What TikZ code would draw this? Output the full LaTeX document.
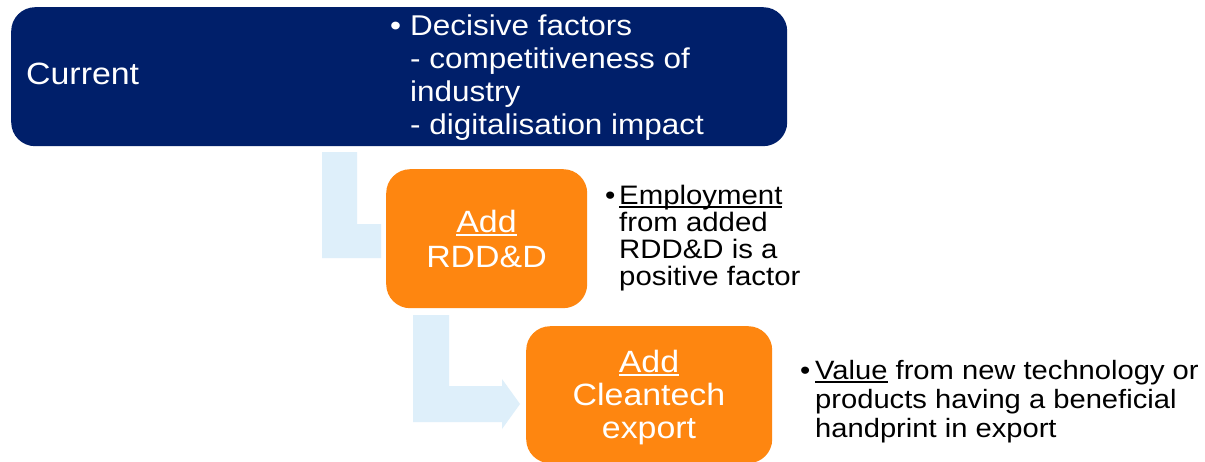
\documentclass[tikz,border=0pt]{standalone}
\usepackage{fontspec}
\setmainfont{Liberation Sans}[FakeStretch=1.1]
\definecolor{navy}{RGB}{0,31,106}
\definecolor{orng}{RGB}{254,134,16}
\definecolor{lblue}{RGB}{222,239,250}
\newcommand\undl[1]{\setbox0\hbox{#1}\rlap{\rule[-3.5pt]{\wd0}{2pt}}#1}
\begin{document}
\begin{tikzpicture}[x=1pt,y=-1pt,
  panel/.style={rounded corners=24pt, inner sep=0pt, anchor=north west},
  navybox/.style={panel, fill=navy},
  orangebox/.style={panel, fill=orng},
  flow/.style={fill=lblue},
  wtext/.style={inner sep=0pt, text=white},
  btext/.style={inner sep=0pt, text=black, align=left, anchor=base west},
  bigfont/.style={font=\fontsize{30.8}{35}\selectfont}
]
\useasboundingbox (0,0) rectangle (1205,461);
\fill[white] (0,0) rectangle (1205,461);

% light blue bent arrows
\fill[flow] (322,152) -- (357,152) -- (357,224) -- (381,224) -- (381,258) -- (322,258) -- cycle;
\fill[flow] (413,315) -- (449,315) -- (449,386) -- (502,386) -- (502,379) -- (520,404)
  -- (502,429) -- (502,422) -- (413,422) -- cycle;

% boxes
\node[navybox, minimum width=776pt, minimum height=139pt] (cur) at (11,7) {};
\node[orangebox, minimum width=201pt, minimum height=139pt] (rdd) at (386,169) {};
\node[orangebox, minimum width=246pt, minimum height=137pt] (exp) at (526,326) {};

% texts in boxes
\node[wtext, bigfont, anchor=base west] (curt) at (26,84) {Current};
\node[wtext, anchor=base west, align=left, font=\fontsize{28.6}{32.7}\selectfont] (dect) at (390,134)
  {\makebox[20pt][l]{•}Decisive factors\\
   \hspace*{20pt}- competitiveness of\\
   \hspace*{20pt}industry\\
   \hspace*{20pt}- digitalisation impact};
\node[wtext, anchor=base, align=center, bigfont] (rddt) at (486.5,267)
  {\undl{Add}\\RDD\&D};
\node[wtext, anchor=base, align=center, font=\fontsize{30.8}{33}\selectfont] (expt) at (649,438)
  {\undl{Add}\\Cleantech\\export};

% side texts
\node[btext, font=\fontsize{26.7}{26.7}\selectfont] (empt) at (605,285)
  {\makebox[14pt][l]{•}\undl{Employment}\\
   \hspace*{14pt}from added\\
   \hspace*{14pt}RDD\&D is a\\
   \hspace*{14pt}positive factor};
\node[btext, font=\fontsize{26.5}{29}\selectfont] (valt) at (800,437)
  {\makebox[15pt][l]{•}\undl{Value} from new technology or\\
   \hspace*{15pt}products having a beneficial\\
   \hspace*{15pt}handprint in export};
\end{tikzpicture}
\end{document}
